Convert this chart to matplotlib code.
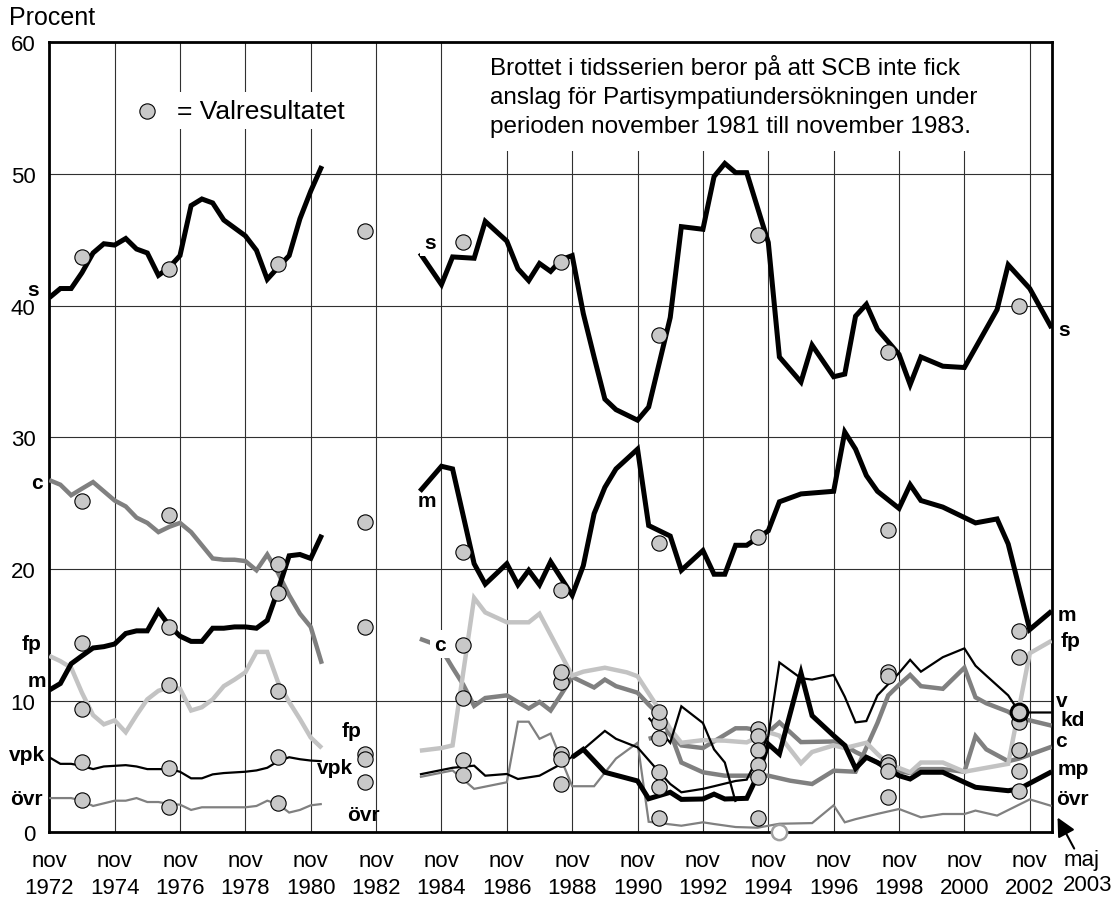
import numpy as np
import matplotlib.pyplot as plt
from matplotlib.patches import Rectangle

plt.rcParams['font.family'] = ['Liberation Sans', 'DejaVu Sans']

# --- mätningar nov 1972 - mar 1981 ---
ar_1 = [1972.83, 1973.17, 1973.5, 1973.83, 1974.17, 1974.5, 1974.83, 1975.17, 1975.5, 1975.83,
        1976.17, 1976.5, 1976.83, 1977.17, 1977.5, 1977.83, 1978.17, 1978.5, 1978.83, 1979.17,
        1979.5, 1979.83, 1980.17, 1980.5, 1980.83, 1981.17]
s_1 = [40.6, 41.3, 41.3, 42.5, 44.0, 44.7, 44.6, 45.1, 44.3, 44.0, 42.3, 42.9, 43.8, 47.6, 48.1,
       47.8, 46.5, 45.9, 45.3, 44.2, 42.0, 42.9, 43.8, 46.6, 48.7, 50.6]
m_1 = [10.8, 11.3, 12.8, 13.4, 14.0, 14.1, 14.3, 15.1, 15.3, 15.3, 16.8, 15.7, 14.9, 14.5, 14.5,
       15.5, 15.5, 15.6, 15.6, 15.5, 16.1, 18.4, 21.0, 21.1, 20.8, 22.6]
c_1 = [26.75, 26.4, 25.6, 26.1, 26.6, 25.9, 25.2, 24.75, 23.9, 23.5, 22.8, 23.2, 23.5, 22.8, 21.8,
       20.8, 20.7, 20.7, 20.6, 19.9, 21.1, 19.7, 18.0, 16.6, 15.6, 12.8]
fp_1 = [13.4, 13.0, 12.5, 10.6, 8.9, 8.2, 8.5, 7.6, 8.9, 10.1, 10.75, 11.0, 10.9, 9.25, 9.5,
        10.1, 11.1, 11.6, 12.15, 13.7, 13.7, 11.4, 9.9, 8.6, 7.2, 6.4]
vpk_1 = [5.7, 5.2, 5.2, 5.05, 4.8, 5.0, 5.05, 5.1, 5.0, 4.8, 4.8, 4.8, 4.6, 4.1, 4.1, 4.4, 4.5,
         4.55, 4.6, 4.7, 4.9, 5.4, 5.7, 5.55, 5.45, 5.4]
ovr_1 = [2.6, 2.6, 2.6, 2.4, 2.0, 2.2, 2.4, 2.4, 2.6, 2.3, 2.3, 2.15, 2.1, 1.7, 1.9, 1.9, 1.9,
         1.9, 1.9, 2.0, 2.4, 2.15, 1.5, 1.7, 2.05, 2.15]

# --- mätningar 1984 - maj 2003 ---
ar_s2 = [1984.17, 1984.83, 1985.17, 1985.83, 1986.17, 1986.83, 1987.17, 1987.5, 1987.83, 1988.17,
         1988.5, 1988.83, 1989.17, 1989.5, 1989.83, 1990.17, 1990.5, 1990.83, 1991.17, 1991.83,
         1992.17, 1992.83, 1993.17, 1993.5, 1993.83, 1994.17, 1994.83, 1995.17, 1995.83, 1996.17,
         1996.83, 1997.17, 1997.5, 1997.83, 1998.17, 1998.83, 1999.17, 1999.5, 2000.17, 2000.83,
         2001.83, 2002.17, 2002.83, 2003.5]
s_2 = [44.0, 41.6, 43.7, 43.6, 46.4, 44.9, 42.8, 41.9, 43.2, 42.6, 43.5, 43.8, 39.4, 36.1, 32.9,
       32.1, 31.7, 31.3, 32.3, 39.1, 46.0, 45.8, 49.8, 50.8, 50.1, 50.1, 44.8, 36.1, 34.2, 37.0,
       34.6, 34.8, 39.2, 40.1, 38.2, 36.3, 34.0, 36.1, 35.4, 35.3, 39.7, 43.1, 41.3, 38.3]

ar_m2 = [1984.17, 1984.83, 1985.17, 1985.83, 1986.17, 1986.83, 1987.17, 1987.5, 1987.83, 1988.17,
         1988.83, 1989.17, 1989.5, 1989.83, 1990.17, 1990.83, 1991.17, 1991.83, 1992.17, 1992.83,
         1993.17, 1993.5, 1993.83, 1994.17, 1994.83, 1995.17, 1995.83, 1996.83, 1997.17, 1997.5,
         1997.83, 1998.17, 1998.83, 1999.17, 1999.5, 2000.17, 2001.17, 2001.83, 2002.17, 2002.83,
         2003.5]
m_2 = [25.9, 27.8, 27.6, 20.4, 18.85, 20.4, 18.8, 19.9, 18.8, 20.55, 18.0, 20.25, 24.2, 26.2, 27.6,
       29.1, 23.3, 22.5, 19.9, 21.4, 19.6, 19.6, 21.8, 21.8, 22.9, 25.1, 25.7, 25.9, 30.4, 29.1,
       27.1, 25.9, 24.6, 26.4, 25.2, 24.7, 23.5, 23.8, 21.9, 15.4, 16.8]

ar_c2 = [1984.17, 1984.5, 1984.83, 1985.17, 1985.5, 1985.83, 1986.17, 1986.83, 1987.5, 1987.83,
         1988.17, 1988.5, 1988.83, 1989.5, 1989.83, 1990.17, 1990.83, 1991.17, 1991.5, 1991.83,
         1992.17, 1992.83, 1993.83, 1994.17, 1994.83, 1995.17, 1995.83, 1996.83, 1997.17, 1997.5,
         1998.17, 1998.5, 1999.17, 1999.5, 2000.17, 2000.83, 2001.17, 2001.5, 2002.17, 2002.5,
         2003.5]
c_2 = [14.7, 14.4, 13.9, 12.5, 11.2, 9.6, 10.2, 10.4, 9.4, 9.9, 9.25, 10.5, 11.8, 11.0, 11.6,
       11.1, 10.6, 9.7, 8.9, 7.4, 6.6, 6.4, 7.9, 7.9, 7.6, 8.35, 6.85, 6.9, 6.6, 6.1, 5.3, 4.8,
       4.5, 4.8, 4.8, 4.6, 7.3, 6.3, 5.4, 5.6, 6.5]

ar_fp2 = [1984.17, 1984.83, 1985.17, 1985.83, 1986.17, 1986.83, 1987.5, 1987.83, 1988.83, 1989.17,
          1989.83, 1990.5, 1990.83, 1991.5, 1991.83, 1992.17, 1992.83, 1993.5, 1994.17, 1994.83,
          1995.17, 1995.83, 1996.17, 1996.83, 1997.17, 1997.83, 1998.17, 1998.5, 1999.17, 1999.5,
          2000.17, 2000.83, 2001.5, 2002.17, 2002.83, 2003.5]
fp_2 = [6.2, 6.4, 6.6, 17.8, 16.7, 15.95, 15.95, 16.6, 11.9, 12.2, 12.5, 12.15, 11.85, 9.3, 7.85,
        6.8, 7.0, 6.96, 6.83, 7.6, 7.34, 5.25, 6.1, 6.6, 6.4, 6.8, 5.95, 5.2, 4.56, 5.3, 5.3, 4.6,
        4.9, 5.2, 13.6, 14.55]

ar_v2 = [1984.17, 1985.17, 1985.83, 1986.17, 1986.83, 1987.17, 1987.83, 1988.5, 1989.17, 1989.83,
         1990.17, 1990.83, 1991.5, 1991.83, 1992.17, 1992.83, 1993.17, 1993.83, 1994.17, 1994.83,
         1995.17, 1995.83, 1996.17, 1996.83, 1997.17, 1997.5, 1997.83, 1998.17, 1998.83, 1999.17,
         1999.5, 2000.17, 2000.83, 2001.17, 2001.5, 2002.17, 2002.5, 2002.83, 2003.5]
v_2 = [4.4, 4.9, 5.06, 4.3, 4.43, 4.05, 4.3, 5.2, 6.3, 7.7, 7.1, 6.45, 4.55, 3.67, 3.04, 3.3, 3.5,
       3.9, 4.0, 7.3, 12.9, 11.7, 11.6, 11.95, 10.3, 8.35, 8.45, 10.4, 12.1, 13.1, 12.2, 13.3,
       13.97, 12.65, 11.9, 10.4, 9.16, 9.1, 9.1]

ar_mp2 = [1988.83, 1989.17, 1989.83, 1990.83, 1991.17, 1991.83, 1992.17, 1992.83, 1993.17, 1993.5,
          1994.17, 1994.5, 1994.83, 1995.17, 1995.83, 1996.17, 1996.83, 1997.17, 1997.5, 1997.83,
          1998.17, 1998.5, 1998.83, 1999.17, 1999.5, 2000.17, 2000.83, 2001.17, 2002.17, 2002.5,
          2003.5]
mp_2 = [5.7, 6.3, 4.56, 3.9, 2.55, 3.04, 2.5, 2.53, 2.9, 2.53, 2.58, 4.3, 6.7, 5.95, 12.1, 8.86,
        7.34, 6.6, 4.85, 5.7, 5.3, 4.8, 4.3, 4.05, 4.56, 4.56, 3.8, 3.42, 3.16, 3.29, 4.6]

ar_kd2 = [1991.17, 1991.83, 1992.17, 1992.83, 1993.5, 1994.17, 1994.83, 1995.5, 1996.17, 1996.83,
          1997.5, 1998.17, 1998.5, 1998.83, 1999.17, 1999.5, 2000.17, 2000.83, 2001.17, 2001.5,
          2002.17, 2002.5, 2002.83, 2003.5]
kd_2 = [7.1, 7.6, 5.3, 4.56, 4.3, 4.3, 4.3, 3.92, 3.67, 4.68, 4.6, 8.3, 10.4, 11.2, 11.95, 11.1,
        10.9, 12.5, 10.25, 9.8, 9.16, 8.6, 8.5, 8.1]

ar_nyd2 = [1991.17, 1991.83, 1992.17, 1992.83, 1993.17, 1993.5, 1993.83]
nyd_2 = [8.7, 6.8, 9.57, 8.3, 6.3, 5.3, 2.3]

ar_ovr2 = [1984.17, 1985.17, 1985.83, 1986.83, 1987.17, 1987.5, 1987.83, 1988.17, 1988.83, 1989.5,
           1990.17, 1990.83, 1991.17, 1992.17, 1992.83, 1993.17, 1993.83, 1994.5, 1995.17, 1996.17,
           1996.83, 1997.17, 1997.5, 1998.17, 1998.83, 1999.5, 2000.17, 2000.83, 2001.17, 2001.83,
           2002.83, 2003.5]
ovr_2 = [4.2, 4.7, 3.3, 3.8, 8.4, 8.4, 7.1, 7.5, 3.5, 3.5, 5.6, 6.8, 0.8, 0.5, 0.76, 0.63, 0.4,
         0.35, 0.65, 0.7, 2.05, 0.76, 1.0, 1.4, 1.77, 1.14, 1.39, 1.39, 1.65, 1.27, 2.5, 2.0]

# --- valresultat ---
nan = np.nan
val_ar = [1973.83, 1976.5, 1979.83, 1982.5, 1985.5, 1988.5, 1991.5, 1994.5, 1998.5, 2002.5]
val_s = [43.7, 42.8, 43.2, 45.7, 44.8, 43.3, 37.8, 45.35, 36.5, 40.0]
val_m = [14.4, 15.6, 20.4, 23.6, 21.3, 18.4, 22.0, 22.45, 22.95, 15.3]
val_c = [25.2, 24.1, 18.2, 15.6, 10.2, 11.4, 8.4, 7.84, 5.36, 6.25]
val_fp = [9.4, 11.2, 10.7, 5.95, 14.25, 12.2, 9.16, 7.34, 5.1, 13.3]
val_v = [5.37, 4.9, 5.7, 5.57, 5.5, 5.95, 4.6, 6.27, 12.15, 8.35]
val_ovr = [2.45, 1.9, 2.23, 3.85, 4.35, 3.7, 1.06, 1.06, 2.66, 3.16]
val_mp = [nan, nan, nan, nan, nan, 5.57, 3.46, 5.1, 4.68, 4.68]
val_kd = [nan, nan, nan, nan, nan, nan, 7.14, 4.18, 11.85, 9.16]
ring_ar = [1995.17]
ring_val = [0.0]

tick_ar = list(range(1972, 2003, 2))

x0 = 1972.83
fig = plt.figure(figsize=(11.17, 9.04), dpi=100)
ax = fig.add_axes([0.0441, 0.0782, 0.8974, 0.8739])
ax.set_xlim(x0, x0 + 30.67)
ax.set_ylim(0, 60)

ax.set_xticks([x0 + (a - 1972) for a in tick_ar])
ax.set_xticklabels([f'nov\n{a}' for a in tick_ar], fontsize=16, linespacing=1.35)
ax.set_yticks(range(0, 61, 10))
ax.tick_params(axis='y', length=0, labelsize=16, pad=10)
ax.tick_params(axis='x', length=0, pad=13)
ax.grid(True, color='#303030', lw=0.8)
ax.set_axisbelow(True)
for sp in ax.spines.values():
    sp.set_linewidth(2)

SVART, GRA, LJUS = 'black', '#808080', '#c3c3c3'
tjock, tunn = 3.6, 1.6
kw = dict(solid_joinstyle='miter', solid_capstyle='butt')

# vita rutor bakom texter
ax.add_patch(Rectangle((1985.70, 51.73), 15.92, 8.27, facecolor='white', edgecolor='none', zorder=1))
ax.add_patch(Rectangle((1975.36, 53.4), 6.52, 2.8, facecolor='white', edgecolor='none', zorder=1))

for ar, y, col, lw in [(ar_1, ovr_1, GRA, tunn), (ar_1, c_1, GRA, tjock - 0.4),
                       (ar_1, fp_1, LJUS, tjock - 0.4), (ar_1, m_1, SVART, tjock),
                       (ar_1, s_1, SVART, tjock), (ar_1, vpk_1, SVART, tunn)]:
    ax.plot(ar, y, color=col, lw=lw, zorder=3, **kw)

for ar, y, col, lw in [(ar_ovr2, ovr_2, GRA, tunn), (ar_c2, c_2, GRA, tjock - 0.4),
                       (ar_kd2, kd_2, GRA, tjock - 0.4), (ar_fp2, fp_2, LJUS, tjock - 0.4),
                       (ar_mp2, mp_2, SVART, tjock), (ar_m2, m_2, SVART, tjock),
                       (ar_s2, s_2, SVART, tjock), (ar_v2, v_2, SVART, tunn),
                       (ar_nyd2, nyd_2, SVART, tunn)]:
    ax.plot(ar, y, color=col, lw=lw, zorder=3, **kw)

cirkel = dict(marker='o', ms=11, mfc='#c8c8c8', mec='black', mew=0.8, ls='none', zorder=5)
for v in [val_s, val_m, val_c, val_fp, val_v, val_ovr, val_mp, val_kd]:
    ax.plot(val_ar, v, **cirkel)
ax.plot(val_ar[-1], val_kd[-1], marker='o', ms=12, mfc='#c8c8c8', mec='black', mew=2.2,
        ls='none', zorder=6)
ax.plot(ring_ar, ring_val, marker='o', ms=11, mfc='white', mec='#a0a0a0', mew=1.8, ls='none',
        zorder=5, clip_on=False)

# förklaring
ax.plot([0.0975], [0.913], transform=ax.transAxes, marker='o', ms=11, mfc='#c8c8c8', mec='black',
        mew=0.8, zorder=5)
ax.text(1976.74, 54.77, '= Valresultatet', fontsize=19, va='center', ha='left', zorder=6)
ax.text(1986.32, 55.95, 'Brottet i tidsserien beror på att SCB inte fick\n'
        'anslag för Partisympatiundersökningen under\n'
        'perioden november 1981 till november 1983.',
        fontsize=17.5, va='center', ha='left', linespacing=1.4, zorder=6)

fig.text(0.008, 0.980, 'Procent', fontsize=18, va='center', ha='left')

etiketter = [
    ('s', 1972.33, 41.25), ('c', 1972.45, 26.6), ('fp', 1972.30, 14.37), ('m', 1972.44, 11.56),
    ('vpk', 1972.14, 5.94), ('övr', 1972.14, 2.53),
    ('fp', 1982.09, 7.71), ('vpk', 1981.58, 4.96), ('övr', 1982.43, 1.39),
    ('m', 1984.38, 25.18),
    ('s', 2003.87, 38.2), ('m', 2003.97, 16.58), ('fp', 2004.07, 14.55), ('v', 2003.82, 10.0),
    ('kd', 2004.13, 8.55), ('c', 2003.77, 6.96), ('mp', 2004.17, 4.86), ('övr', 2004.13, 2.53),
]
for txt, x, y in etiketter:
    ax.text(x, y, txt, fontsize=15, fontweight='bold', ha='center', va='center', zorder=7,
            clip_on=False)
for txt, x, y in [('s', 1984.49, 44.8), ('c', 1984.79, 14.3)]:
    ax.text(x, y, txt, fontsize=15, fontweight='bold', ha='center', va='center', zorder=7,
            bbox=dict(facecolor='white', edgecolor='none', pad=3))

ax.annotate('', xy=(2003.64, 1.31), xytext=(2004.23, -1.42), annotation_clip=False,
            arrowprops=dict(arrowstyle='-|>', color='black', lw=1.5, mutation_scale=28))
ax.text(2003.85, -3.0, 'maj\n2003', fontsize=16, ha='left', va='center', linespacing=1.25,
        clip_on=False)

fig.savefig('out.png', dpi=100)
